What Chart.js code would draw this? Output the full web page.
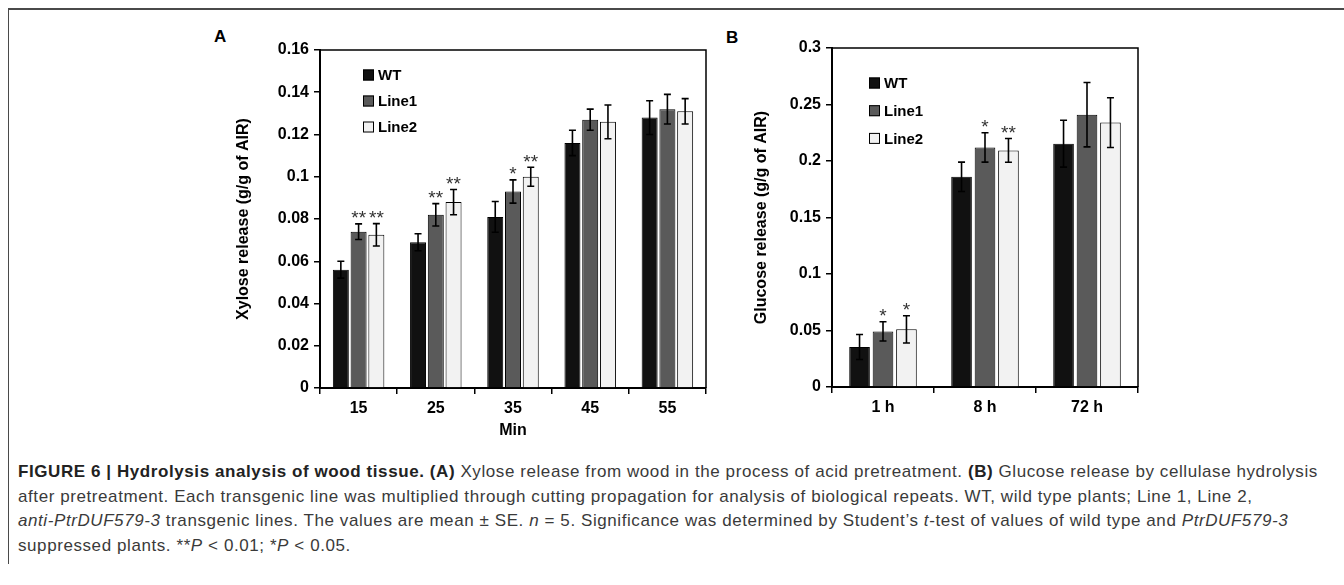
<!DOCTYPE html>
<html>
<head>
<meta charset="utf-8">
<script src="https://cdn.jsdelivr.net/npm/chart.js@4.4.1/dist/chart.umd.min.js"></script>
<style>
  html, body { margin: 0; padding: 0; background: #fff; }
  body { width: 1344px; height: 585px; position: relative; overflow: hidden; font-family: "Liberation Sans", Arial, sans-serif; }
  #frame { position: absolute; left: 8px; top: 8px; width: 1336px; height: 554px; border-top: 2px solid #4a4a4a; border-left: 1px solid #4a4a4a; }
  .wrap { position: absolute; top: 20px; height: 440px; }
  #wrapA { left: 200px; width: 520px; }
  #wrapB { left: 720px; width: 440px; }
  .tag { position: absolute; font: bold 17px "Liberation Sans", Arial, sans-serif; color: #000; }
  #caption { position: absolute; left: 18px; top: 460px; font-size: 17px; letter-spacing: 0.58px; line-height: 24.5px; color: #3a3a3a; white-space: nowrap; }
  #caption b { color: #222; }
</style>
</head>
<body>
<div id="frame"></div>
<div class="tag" style="left:214px;top:27px">A</div>
<div class="tag" style="left:726px;top:28px">B</div>
<div class="wrap" id="wrapA"><canvas id="chartA"></canvas></div>
<div class="wrap" id="wrapB"><canvas id="chartB"></canvas></div>
<div id="caption">
  <div><b>FIGURE 6 | Hydrolysis analysis of wood tissue. (A)</b> Xylose release from wood in the process of acid pretreatment. <b>(B)</b> Glucose release by cellulase hydrolysis</div>
  <div>after pretreatment. Each transgenic line was multiplied through cutting propagation for analysis of biological repeats. WT, wild type plants; Line 1, Line 2,</div>
  <div><i>anti-PtrDUF579-3</i> transgenic lines. The values are mean ± SE. <i>n</i> = 5. Significance was determined by Student’s <i>t</i>-test of values of wild type and <i>PtrDUF579-3</i></div>
  <div>suppressed plants. **<i>P</i> &lt; 0.01; *<i>P</i> &lt; 0.05.</div>
</div>
<script>
const seriesNames = ["WT", "Line1", "Line2"];
const seriesColors = ["#111111", "#5a5a5a", "#f2f2f2"];

// panel A: xylose release
const minutes = ["15", "25", "35", "45", "55"];
const xyloseWT = [0.056, 0.069, 0.081, 0.116, 0.128];
const xyloseLine1 = [0.074, 0.082, 0.093, 0.127, 0.132];
const xyloseLine2 = [0.0725, 0.088, 0.100, 0.126, 0.131];
const xyloseErrWT = [0.004, 0.004, 0.0073, 0.006, 0.008];
const xyloseErrLine1 = [0.0037, 0.0053, 0.0055, 0.005, 0.007];
const xyloseErrLine2 = [0.0053, 0.006, 0.0045, 0.008, 0.006];
const xyloseStarsLine1 = ["**", "**", "*", "", ""];
const xyloseStarsLine2 = ["**", "**", "**", "", ""];
const xyloseTicks = [0, 0.02, 0.04, 0.06, 0.08, 0.1, 0.12, 0.14, 0.16];

// panel B: glucose release
const hours = ["1 h", "8 h", "72 h"];
const glucoseWT = [0.0354, 0.186, 0.2153];
const glucoseLine1 = [0.0492, 0.212, 0.241];
const glucoseLine2 = [0.051, 0.2094, 0.234];
const glucoseErrWT = [0.011, 0.013, 0.0207];
const glucoseErrLine1 = [0.0085, 0.013, 0.0285];
const glucoseErrLine2 = [0.012, 0.0105, 0.022];
const glucoseStarsLine1 = ["*", "*", ""];
const glucoseStarsLine2 = ["*", "**", ""];
const glucoseTicks = [0, 0.05, 0.1, 0.15, 0.2, 0.25, 0.3];

const FONT = '"Liberation Sans", Arial, sans-serif';

// error bars, significance stars, plot frame and inset legend
const extras = {
  id: "extras",
  afterDatasetsDraw(chart, args, opts) {
    const { ctx, chartArea } = chart;
    const y = chart.scales.y;
    ctx.save();
    chart.data.datasets.forEach((ds, i) => {
      chart.getDatasetMeta(i).data.forEach((bar, j) => {
        const top = y.getPixelForValue(ds.data[j] + opts.errors[i][j]);
        const bot = y.getPixelForValue(ds.data[j] - opts.errors[i][j]);
        ctx.strokeStyle = "#000";
        ctx.lineWidth = 1.6;
        ctx.beginPath();
        ctx.moveTo(bar.x, top); ctx.lineTo(bar.x, bot);
        ctx.moveTo(bar.x - 3.5, top); ctx.lineTo(bar.x + 3.5, top);
        ctx.moveTo(bar.x - 3.5, bot); ctx.lineTo(bar.x + 3.5, bot);
        ctx.stroke();
        const star = opts.stars[i] && opts.stars[i][j];
        if (star) {
          ctx.fillStyle = "#333";
          ctx.font = "19px " + FONT;
          ctx.textAlign = "center";
          ctx.textBaseline = "alphabetic";
          const n = star.length;
          for (let k = 0; k < n; k++) {
            ctx.fillText("*", bar.x + (k - (n - 1) / 2) * 7.5, top + 0.5);
          }
        }
      });
    });
    // top and right edge of the plot area
    ctx.strokeStyle = "#000";
    ctx.lineWidth = 1.5;
    ctx.beginPath();
    ctx.moveTo(chartArea.left, chartArea.top);
    ctx.lineTo(chartArea.right, chartArea.top);
    ctx.lineTo(chartArea.right, chartArea.bottom);
    ctx.stroke();
    // legend
    ctx.font = "bold 15px " + FONT;
    ctx.textAlign = "left";
    ctx.textBaseline = "middle";
    chart.data.datasets.forEach((ds, i) => {
      const lx = chartArea.left + opts.legendX;
      const ly = chartArea.top + opts.legendY + i * opts.legendGap;
      ctx.fillStyle = ds.backgroundColor;
      ctx.fillRect(lx, ly - 5.5, 11, 11);
      ctx.lineWidth = 1;
      ctx.strokeRect(lx + 0.5, ly - 5, 10, 10);
      ctx.fillStyle = "#000";
      ctx.fillText(ds.label, lx + 15, ly + 1);
    });
    ctx.restore();
  },
};

function makeDatasets(values, catPct, barPct) {
  return values.map((data, i) => ({
    label: seriesNames[i],
    data: data,
    backgroundColor: seriesColors[i],
    borderColor: "#000",
    borderWidth: 1,
    categoryPercentage: catPct,
    barPercentage: barPct,
  }));
}

function makeChart(id, cfg) {
  return new Chart(document.getElementById(id), {
    type: "bar",
    data: { labels: cfg.labels, datasets: makeDatasets(cfg.values, cfg.catPct, cfg.barPct) },
    plugins: [extras],
    options: {
      responsive: true,
      maintainAspectRatio: false,
      animation: false,
      events: [],
      layout: { padding: cfg.padding },
      plugins: {
        legend: { display: false },
        tooltip: { enabled: false },
        extras: { errors: cfg.errors, stars: cfg.stars, legendX: cfg.legendX, legendY: cfg.legendY, legendGap: cfg.legendGap },
      },
      scales: {
        x: {
          afterFit: (s) => { s.height = 60; },
          border: { display: true, color: "#000", width: 2 },
          grid: { drawOnChartArea: false, drawTicks: true, tickLength: 6, color: "#000", lineWidth: 1.5 },
          ticks: { color: "#000", font: { family: FONT, size: 16, weight: "bold" }, padding: 5 },
          title: { display: !!cfg.xTitle, text: cfg.xTitle, color: "#000", font: { family: FONT, size: 16, weight: "bold" }, padding: { top: 0, bottom: 8 } },
        },
        y: {
          min: cfg.ticks[0],
          max: cfg.ticks[cfg.ticks.length - 1],
          afterFit: (s) => { s.width = cfg.yWidth; },
          afterBuildTicks: (s) => { s.ticks = cfg.ticks.map((v) => ({ value: v })); },
          border: { display: true, color: "#000", width: 2 },
          grid: { drawOnChartArea: false, drawTicks: true, tickLength: 6, color: "#000", lineWidth: 1.5 },
          ticks: { color: "#000", font: { family: FONT, size: 16, weight: "bold" }, padding: 5, callback: (v) => String(+Number(v).toFixed(3)) },
          title: { display: true, text: cfg.yTitle, color: "#000", font: { family: FONT, size: 16, weight: "bold" }, padding: { top: 0, bottom: 0 } },
        },
      },
    },
  });
}

makeChart("chartA", {
  labels: minutes,
  values: [xyloseWT, xyloseLine1, xyloseLine2],
  errors: [xyloseErrWT, xyloseErrLine1, xyloseErrLine2],
  stars: [[], xyloseStarsLine1, xyloseStarsLine2],
  ticks: xyloseTicks,
  yTitle: "Xylose release (g/g of AIR)",
  xTitle: "Min",
  catPct: 0.69,
  barPct: 0.9,
  yWidth: 86,
  padding: { left: 34, right: 14, top: 30, bottom: 12 },
  legendX: 43, legendY: 25, legendGap: 26,
});

makeChart("chartB", {
  labels: hours,
  values: [glucoseWT, glucoseLine1, glucoseLine2],
  errors: [glucoseErrWT, glucoseErrLine1, glucoseErrLine2],
  stars: [[], glucoseStarsLine1, glucoseStarsLine2],
  ticks: glucoseTicks,
  yTitle: "Glucose release (g/g of AIR)",
  xTitle: "",
  catPct: 0.69,
  barPct: 0.88,
  yWidth: 80,
  padding: { left: 32, right: 22, top: 28, bottom: 13 },
  legendX: 37, legendY: 35, legendGap: 27.7,
});
</script>
</body>
</html>
